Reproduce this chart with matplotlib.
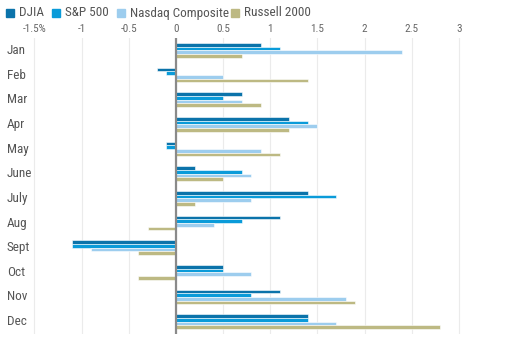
import numpy as np
import matplotlib
matplotlib.use("Agg")
import matplotlib.pyplot as plt
from matplotlib.patches import Rectangle

plt.rcParams['font.family'] = ['Roboto Condensed', 'Lato', 'DejaVu Sans']

# Datos (rendimiento medio por mes, %)
meses = ['Jan', 'Feb', 'Mar', 'Apr', 'May', 'June', 'July', 'Aug', 'Sept', 'Oct', 'Nov', 'Dec']
djia = [0.9, -0.2, 0.7, 1.2, -0.1, 0.2, 1.4, 1.1, -1.1, 0.5, 1.1, 1.4]
sp500 = [1.1, -0.1, 0.5, 1.4, -0.1, 0.7, 1.7, 0.7, -1.1, 0.5, 0.8, 1.4]
nasdaq = [2.4, 0.5, 0.7, 1.5, 0.9, 0.8, 0.8, 0.4, -0.9, 0.8, 1.8, 1.7]
russell = [0.7, 1.4, 0.9, 1.2, 1.1, 0.5, 0.2, -0.3, -0.4, -0.4, 1.9, 2.8]
ticks = [-1.5, -1, -0.5, 0, 0.5, 1, 1.5, 2, 2.5, 3]
tick_labels = ['-1.5%', '-1', '-0.5', '0', '0.5', '1', '1.5', '2', '2.5', '3']

series = [('DJIA', djia, '#0b73aa'),
          ('S&P 500', sp500, '#0a9bd9'),
          ('Nasdaq Composite', nasdaq, '#9dcdee'),
          ('Russell 2000', russell, '#bdb983')]

W, H = 514, 343
fig = plt.figure(figsize=(W / 100, H / 100), dpi=100)
ax = fig.add_axes([0, 1 - 334 / H, 1, (334 - 38) / H])

y = np.arange(len(meses))
h = 0.15
for i, (nombre, vals, color) in enumerate(series):
    ax.barh(y + (i - 1.5) * h, vals, height=h, color=color,
            edgecolor='#ffffff', linewidth=0.4, zorder=3)

ax.set_xlim(-1.865, 3.585)
ax.set_ylim(11.5, -0.5)

ax.xaxis.tick_top()
ax.set_xticks(ticks)
ax.set_xticklabels(tick_labels, fontsize=8, color='#666666')
ax.tick_params(axis='x', length=0, pad=3)
ax.set_yticks([])
ax.grid(axis='x', color='#ebebeb', linewidth=0.8, zorder=0)
ax.axvline(0, color='#8a8a8a', linewidth=1.6, zorder=4)

for s in ax.spines.values():
    s.set_visible(False)

# Etiquetas de los meses dentro del area
for yi, m in zip(y, meses):
    ax.text(0.013, yi, m, transform=ax.get_yaxis_transform(), ha='left',
            va='center', fontsize=9.5, color='#555555')

# Leyenda manual arriba (posiciones en pixeles de la figura)
x_cuadro = [6, 52, 117, 231]
for (nombre, _, color), xc in zip(series, x_cuadro):
    fig.add_artist(Rectangle((xc / W, 1 - 17 / H), 8 / W, 8 / H,
                             transform=fig.transFigure, color=color))
    fig.text((xc + 13) / W, 1 - 13 / H, nombre, fontsize=9.5,
             color='#555555', va='center', ha='left')

fig.savefig('out.png', dpi=100)
